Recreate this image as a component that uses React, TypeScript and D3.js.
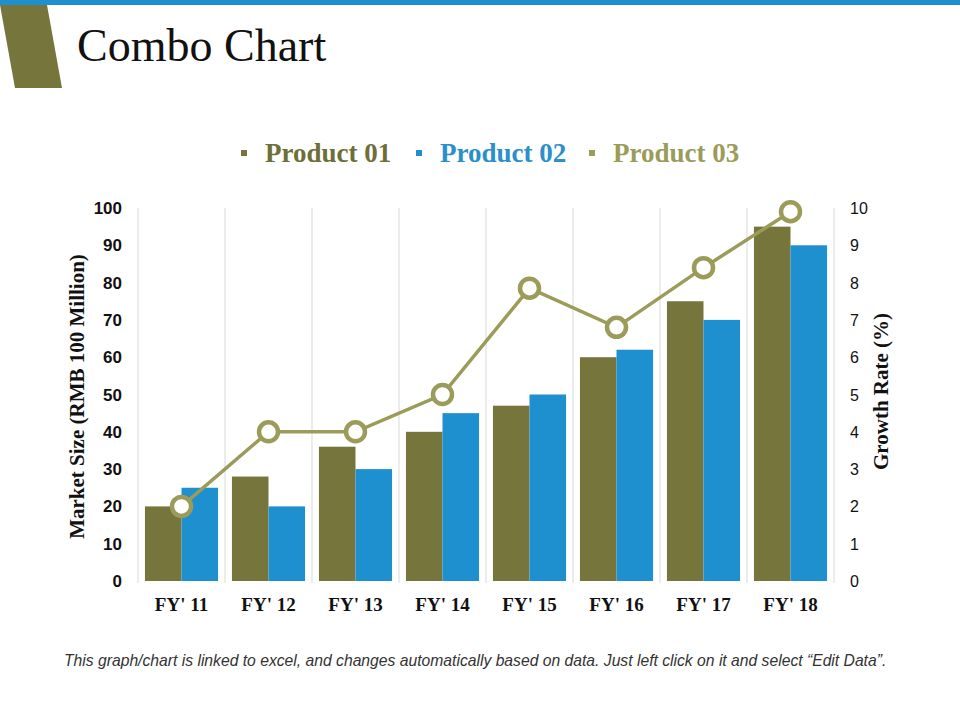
import * as React from 'react';
import * as d3 from 'd3';

const categories = ["FY' 11", "FY' 12", "FY' 13", "FY' 14", "FY' 15", "FY' 16", "FY' 17", "FY' 18"];
const product01 = [20, 28, 36, 40, 47, 60, 75, 95];
const product02 = [25, 20, 30, 45, 50, 62, 70, 90];
const product03 = [2.0, 4.0, 4.0, 5.0, 7.85, 6.8, 8.4, 9.9];
const leftTicks = [0, 10, 20, 30, 40, 50, 60, 70, 80, 90, 100];
const rightTicks = [0, 1, 2, 3, 4, 5, 6, 7, 8, 9, 10];
const legendItems = ['Product 01', 'Product 02', 'Product 03'];

const OLIVE = '#76763c';
const BLUE = '#1e8fcf';
const LINE = '#9b9b5a';
const serif = "Georgia, 'Liberation Serif', 'DejaVu Serif', serif";
const sans = "Arial, 'Liberation Sans', sans-serif";

const W = 960;
const H = 720;
const plot = {left: 138, right: 834, top: 208, bottom: 581};

export default function App() {
  const x = d3.scaleBand<string>().domain(categories).range([plot.left, plot.right]);
  const inner = d3.scaleBand<string>().domain(['p1', 'p2']).range([0, x.bandwidth()]).paddingOuter(0.19).paddingInner(0);
  const yL = d3.scaleLinear().domain([0, 100]).range([plot.bottom, plot.top]);
  const yR = d3.scaleLinear().domain([0, 10]).range([plot.bottom, plot.top]);
  const cx = (c: string) => (x(c) ?? 0) + x.bandwidth() / 2;

  const line = d3.line<number>()
    .x((_, i) => cx(categories[i]))
    .y(d => yR(d));

  const legendColors = [OLIVE, BLUE, LINE];
  const legendText = ['#6e6e38', '#2a8fcb', '#9b9b5a'];
  const legendX = [265, 440, 613];

  return (
    <svg width={W} height={H} style={{position: 'absolute', left: 0, top: 0, background: '#fff'}}>
      {/* header */}
      <rect x={0} y={0} width={W} height={5} fill={BLUE} />
      <polygon points="0,5 47,5 62,88 15,88" fill={OLIVE} />
      <text x={77} y={61} fontFamily={serif} fontSize={46} fill="#111">Combo Chart</text>

      {/* legend */}
      {legendItems.map((name, i) => (
        <g key={name}>
          <rect x={legendX[i] - 24} y={150} width={6} height={6} fill={legendColors[i]} />
          <text x={legendX[i]} y={162} fontFamily={serif} fontWeight="bold" fontSize={27} fill={legendText[i]}>{name}</text>
        </g>
      ))}

      {/* vertical gridlines at category boundaries */}
      {categories.map(c => (
        <line key={c} x1={x(c)} x2={x(c)} y1={plot.top} y2={plot.bottom + 2} stroke="#d9d9d9" strokeWidth={1} />
      ))}
      <line x1={plot.right} x2={plot.right} y1={plot.top} y2={plot.bottom + 2} stroke="#d9d9d9" strokeWidth={1} />

      {/* bars */}
      {categories.map((c, i) => (
        <g key={c} transform={`translate(${x(c)},0)`}>
          <rect x={inner('p1')} y={yL(product01[i])} width={inner.bandwidth()} height={plot.bottom - yL(product01[i])} fill={OLIVE} />
          <rect x={inner('p2')} y={yL(product02[i])} width={inner.bandwidth()} height={plot.bottom - yL(product02[i])} fill={BLUE} />
        </g>
      ))}

      {/* growth line */}
      <path d={line(product03) ?? ''} fill="none" stroke={LINE} strokeWidth={3.5} />
      {product03.map((v, i) => (
        <circle key={i} cx={cx(categories[i])} cy={yR(v)} r={9.5} fill="#fff" stroke={LINE} strokeWidth={4.5} />
      ))}

      {/* left axis */}
      {leftTicks.map(t => (
        <text key={t} x={122} y={yL(t) + 6} textAnchor="end" fontFamily={sans} fontWeight="bold" fontSize={17} fill="#111">{t}</text>
      ))}
      <text transform={`translate(84,${(plot.top + plot.bottom) / 2 + 2}) rotate(-90)`} textAnchor="middle" fontFamily={serif} fontWeight="bold" fontSize={21} fill="#111">Market Size (RMB 100 Million)</text>

      {/* right axis */}
      {rightTicks.map(t => (
        <text key={t} x={850} y={yR(t) + 6} textAnchor="start" fontFamily={sans} fontSize={16} fill="#111">{t}</text>
      ))}
      <text transform={`translate(888,${(plot.top + plot.bottom) / 2 - 3}) rotate(-90)`} textAnchor="middle" fontFamily={serif} fontWeight="bold" fontSize={21} fill="#111">Growth Rate (%)</text>

      {/* x axis labels */}
      {categories.map(c => (
        <text key={c} x={cx(c)} y={611} textAnchor="middle" fontFamily={serif} fontWeight="bold" fontSize={19} fill="#111">{c}</text>
      ))}

      {/* footer */}
      <text x={64} y={666} fontFamily={sans} fontStyle="italic" fontSize={15.7} fill="#333">This graph/chart is linked to excel, and changes automatically based on data. Just left click on it and select “Edit Data”.</text>
    </svg>
  );
}
